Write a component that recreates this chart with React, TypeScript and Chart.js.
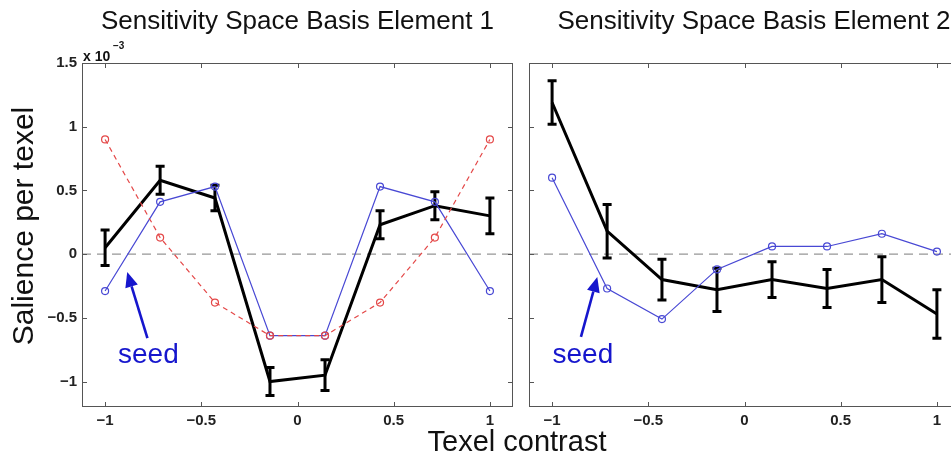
import React, { useEffect, useRef } from "react";
import { Chart, registerables } from "chart.js";

Chart.register(...registerables);

// ---------- data (salience values in units of 1e-3) ----------
const xValues = [-1, -0.714, -0.429, -0.143, 0.143, 0.429, 0.714, 1];
const xTickValues = [-1, -0.5, 0, 0.5, 1];
const yTickValues = [-1, -0.5, 0, 0.5, 1, 1.5];
const X_MIN = -1.12;
const X_MAX = 1.12;
const Y_MIN = -1.2;
const Y_MAX = 1.5;

const titles = ["Sensitivity Space Basis Element 1", "Sensitivity Space Basis Element 2"];
const yAxisLabel = "Salience per texel";
const xAxisLabel = "Texel contrast";
const seedLabel = "seed";

// Element 1
const meanE1 = [0.05, 0.58, 0.44, -1.0, -0.95, 0.23, 0.38, 0.3];
const errE1 = [0.14, 0.11, 0.1, 0.11, 0.12, 0.11, 0.11, 0.14];
const seedE1 = [-0.29, 0.41, 0.53, -0.64, -0.64, 0.53, 0.41, -0.29];
const basisE1 = [0.9, 0.13, -0.38, -0.64, -0.64, -0.38, 0.13, 0.9];

// Element 2
const meanE2 = [1.19, 0.18, -0.2, -0.28, -0.2, -0.27, -0.2, -0.47];
const errE2 = [0.17, 0.21, 0.16, 0.17, 0.14, 0.15, 0.18, 0.19];
const seedE2 = [0.6, -0.27, -0.51, -0.12, 0.06, 0.06, 0.16, 0.02];

// "seed" annotation anchors (data coordinates: [x, y])
const arrowTailE1 = [-0.78, -0.66];
const arrowTipE1 = [-0.885, -0.14];
const seedTextE1 = [-0.775, -0.856];
const arrowTailE2 = [-0.85, -0.65];
const arrowTipE2 = [-0.765, -0.18];
const seedTextE2 = [-0.84, -0.856];

// ---------- styles ----------
const SANS = "'Liberation Sans', Arial, Helvetica, sans-serif";
const BLUE = "rgb(72,72,212)";
const RED = "rgb(228,72,72)";
const SEED_BLUE = "rgb(22,22,205)";

const pts = (ys: number[]) => xValues.map((x, i) => ({ x, y: ys[i] }));

const fmt = (v: number) => (v < 0 ? "\u2212" + Math.abs(v) : String(v));

function drawArrow(ctx: CanvasRenderingContext2D, x1: number, y1: number, x2: number, y2: number) {
  const ang = Math.atan2(y2 - y1, x2 - x1);
  const L = 15;
  const W = 6.5;
  const bx = x2 - L * Math.cos(ang);
  const by = y2 - L * Math.sin(ang);
  ctx.beginPath();
  ctx.moveTo(x1, y1);
  ctx.lineTo(bx, by);
  ctx.stroke();
  ctx.beginPath();
  ctx.moveTo(x2, y2);
  ctx.lineTo(bx + W * Math.sin(ang), by - W * Math.cos(ang));
  ctx.lineTo(bx - W * Math.sin(ang), by + W * Math.cos(ang));
  ctx.closePath();
  ctx.fill();
}

type Panel = {
  idx: number;
  mean: number[];
  err: number[];
  seed: number[];
  basis?: number[];
  tail: number[];
  tip: number[];
  text: number[];
};

function makePlugin(p: Panel) {
  return {
    id: "panelDecor" + p.idx,
    beforeDatasetsDraw(chart: any) {
      const { ctx, chartArea: a, scales } = chart;
      const y0 = scales.y.getPixelForValue(0);
      ctx.save();
      ctx.strokeStyle = "rgb(150,150,150)";
      ctx.lineWidth = 1.4;
      ctx.setLineDash([9, 6]);
      ctx.beginPath();
      ctx.moveTo(a.left, y0);
      ctx.lineTo(a.right, y0);
      ctx.stroke();
      ctx.restore();
    },
    afterDatasetDraw(chart: any, args: any) {
      if (args.meta.label !== "mean") return;
      const { ctx, scales } = chart;
      ctx.save();
      ctx.strokeStyle = "#000";
      ctx.lineWidth = 3;
      ctx.lineCap = "butt";
      xValues.forEach((xv, i) => {
        const px = scales.x.getPixelForValue(xv);
        const t = scales.y.getPixelForValue(p.mean[i] + p.err[i]);
        const b = scales.y.getPixelForValue(p.mean[i] - p.err[i]);
        ctx.beginPath();
        ctx.moveTo(px, t);
        ctx.lineTo(px, b);
        ctx.moveTo(px - 4.5, t);
        ctx.lineTo(px + 4.5, t);
        ctx.moveTo(px - 4.5, b);
        ctx.lineTo(px + 4.5, b);
        ctx.stroke();
      });
      ctx.restore();
    },
    afterDraw(chart: any) {
      const { ctx, chartArea: a, scales } = chart;
      const xs = scales.x;
      const ys = scales.y;
      ctx.save();
      // box
      ctx.strokeStyle = "#555";
      ctx.lineWidth = 1;
      ctx.strokeRect(a.left + 0.5, a.top + 0.5, a.right - a.left - 1, a.bottom - a.top - 1);
      // inner ticks
      ctx.beginPath();
      xTickValues.forEach((v) => {
        const px = Math.round(xs.getPixelForValue(v)) + 0.5;
        ctx.moveTo(px, a.bottom);
        ctx.lineTo(px, a.bottom - 5);
        ctx.moveTo(px, a.top);
        ctx.lineTo(px, a.top + 5);
      });
      yTickValues.forEach((v) => {
        const py = Math.round(ys.getPixelForValue(v)) + 0.5;
        ctx.moveTo(a.left, py);
        ctx.lineTo(a.left + 5, py);
        ctx.moveTo(a.right, py);
        ctx.lineTo(a.right - 5, py);
      });
      ctx.stroke();

      // seed arrow + text
      ctx.strokeStyle = SEED_BLUE;
      ctx.fillStyle = SEED_BLUE;
      ctx.lineWidth = 2.6;
      drawArrow(
        ctx,
        xs.getPixelForValue(p.tail[0]),
        ys.getPixelForValue(p.tail[1]),
        xs.getPixelForValue(p.tip[0]),
        ys.getPixelForValue(p.tip[1])
      );
      ctx.font = `28px ${SANS}`;
      ctx.textAlign = "center";
      ctx.textBaseline = "alphabetic";
      ctx.fillText(seedLabel, xs.getPixelForValue(p.text[0]), ys.getPixelForValue(p.text[1]));

      // titles and labels
      ctx.fillStyle = "#111";
      ctx.font = `26px ${SANS}`;
      ctx.textAlign = "center";
      const titleX = p.idx === 0 ? (a.left + a.right) / 2 : 754;
      ctx.fillText(titles[p.idx], titleX, 29);

      if (p.idx === 0) {
        ctx.save();
        ctx.translate(33, 226);
        ctx.rotate(-Math.PI / 2);
        ctx.font = `30px ${SANS}`;
        ctx.textAlign = "center";
        ctx.fillText(yAxisLabel, 0, 0);
        ctx.restore();

        ctx.textAlign = "left";
        ctx.font = `bold 14px ${SANS}`;
        ctx.fillText("x 10", 83, 61);
        ctx.font = `bold 10px ${SANS}`;
        ctx.fillText("\u22123", 113, 49);
      } else {
        ctx.font = `29px ${SANS}`;
        ctx.textAlign = "center";
        ctx.fillText(xAxisLabel, 517, 451);
      }
      ctx.restore();
    },
  };
}

function makeConfig(p: Panel, padding: any, yWidth: number): any {
  const datasets: any[] = [
    {
      label: "mean",
      data: pts(p.mean),
      borderColor: "#000",
      borderWidth: 3,
      pointRadius: 0,
      tension: 0,
      order: 3,
    },
    {
      label: "seed",
      data: pts(p.seed),
      borderColor: BLUE,
      borderWidth: 1.2,
      pointRadius: 3.5,
      pointBorderWidth: 1.2,
      pointBorderColor: BLUE,
      pointBackgroundColor: "rgba(0,0,0,0)",
      tension: 0,
      order: 2,
    },
  ];
  if (p.basis) {
    datasets.push({
      label: "basis",
      data: pts(p.basis),
      borderColor: RED,
      borderWidth: 1.2,
      borderDash: [5, 4],
      pointRadius: 3.5,
      pointBorderWidth: 1.2,
      pointBorderColor: RED,
      pointBackgroundColor: "rgba(0,0,0,0)",
      tension: 0,
      order: 1,
    });
  }
  return {
    type: "line",
    data: { datasets },
    plugins: [makePlugin(p)],
    options: {
      responsive: false,
      animation: false,
      events: [],
      layout: { padding },
      plugins: {
        legend: { display: false },
        tooltip: { enabled: false },
        title: { display: false },
      },
      scales: {
        x: {
          type: "linear",
          min: X_MIN,
          max: X_MAX,
          grid: { display: false, drawTicks: false },
          border: { display: false },
          ticks: {
            autoSkip: false,
            maxRotation: 0,
            padding: 5,
            color: "#222",
            font: { family: SANS, size: 15, weight: "bold" },
            callback: (v: number) => fmt(v),
          },
          afterBuildTicks: (s: any) => {
            s.ticks = xTickValues.map((v) => ({ value: v }));
          },
          afterFit: (s: any) => {
            s.height = 55;
          },
        },
        y: {
          type: "linear",
          min: Y_MIN,
          max: Y_MAX,
          grid: { display: false, drawTicks: false },
          border: { display: false },
          ticks: {
            display: yWidth > 0,
            autoSkip: false,
            padding: 5,
            color: "#222",
            font: { family: SANS, size: 15, weight: "bold" },
            callback: (v: number) => fmt(v),
          },
          afterBuildTicks: (s: any) => {
            s.ticks = yTickValues.map((v) => ({ value: v }));
          },
          afterFit: (s: any) => {
            s.width = yWidth;
          },
        },
      },
    },
  };
}

export default function App() {
  const leftRef = useRef<HTMLCanvasElement>(null);
  const rightRef = useRef<HTMLCanvasElement>(null);

  useEffect(() => {
    const c1 = new Chart(
      leftRef.current as HTMLCanvasElement,
      makeConfig(
        { idx: 0, mean: meanE1, err: errE1, seed: seedE1, basis: basisE1, tail: arrowTailE1, tip: arrowTipE1, text: seedTextE1 },
        { left: 0, right: 951 - 513, top: 63, bottom: 0 },
        82
      )
    );
    const c2 = new Chart(
      rightRef.current as HTMLCanvasElement,
      makeConfig(
        { idx: 1, mean: meanE2, err: errE2, seed: seedE2, tail: arrowTailE2, tip: arrowTipE2, text: seedTextE2 },
        { left: 529, right: 980 - 960, top: 63, bottom: 0 },
        0
      )
    );
    return () => {
      c1.destroy();
      c2.destroy();
    };
  }, []);

  return (
    <div
      style={{
        position: "fixed",
        left: 0,
        top: 0,
        width: 951,
        height: 462,
        overflow: "hidden",
        background: "#fff",
      }}
    >
      <canvas ref={leftRef} width={951} height={462} style={{ position: "absolute", left: 0, top: 0 }} />
      <canvas ref={rightRef} width={980} height={462} style={{ position: "absolute", left: 0, top: 0 }} />
    </div>
  );
}
